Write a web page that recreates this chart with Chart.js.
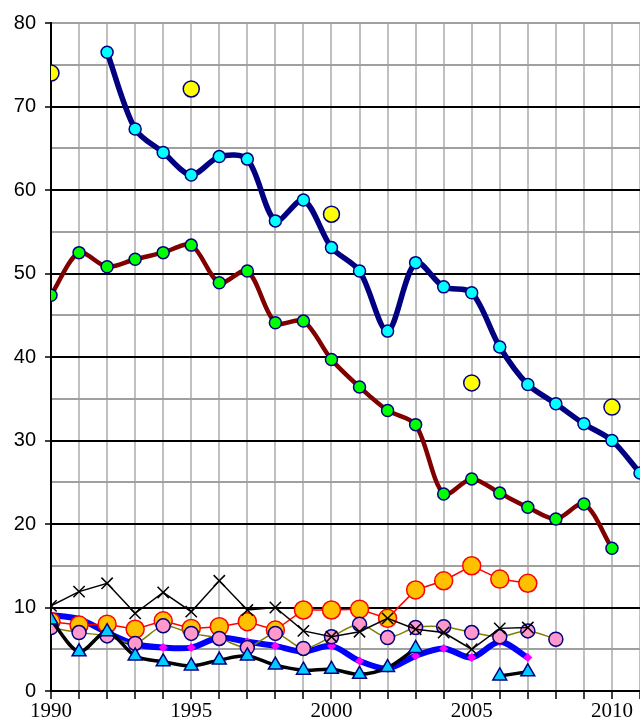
<!DOCTYPE html>
<html>
<head>
<meta charset="utf-8">
<script src="https://cdn.jsdelivr.net/npm/chart.js@4"></script>
<style>
    html, body { margin: 0; padding: 0; background: #fff; }
    #wrap { width: 640px; height: 723px; }
</style>
</head>
<body>
<div id="wrap"><canvas id="chart" width="640" height="723"></canvas></div>
<script>
// years on the x axis
const years = [1990, 1991, 1992, 1993, 1994, 1995, 1996, 1997, 1998, 1999, 2000,
               2001, 2002, 2003, 2004, 2005, 2006, 2007, 2008, 2009, 2010, 2011];

// series values (null = no value)
const yellowDots = [74.0, null, null, null, null, 72.1, null, null, null, null, 57.1,
                    null, null, null, null, 36.9, null, null, null, null, 34.0, null];
const navySeries = [null, null, 76.5, 67.3, 64.5, 61.8, 64.0, 63.7, 56.3, 58.8, 53.1,
                    50.3, 43.1, 51.3, 48.4, 47.7, 41.2, 36.7, 34.4, 32.0, 30.0, 26.1];
const redSeries = [47.4, 52.5, 50.8, 51.7, 52.5, 53.4, 48.9, 50.3, 44.1, 44.3, 39.7,
                   36.4, 33.6, 31.9, 23.6, 25.4, 23.7, 22.0, 20.6, 22.4, 17.1, null];
const orangeSeries = [8.3, 7.9, 8.0, 7.4, 8.4, 7.5, 7.7, 8.3, 7.3, 9.7, 9.7,
                      9.8, 8.7, 12.1, 13.2, 15.0, 13.4, 12.9, null, null, null, null];
const pinkSeries = [7.6, 7.0, 6.6, 5.7, 7.8, 6.9, 6.3, 5.2, 6.9, 5.1, 6.5,
                    8.0, 6.4, 7.6, 7.7, 7.0, 6.5, 7.2, 6.2, null, null, null];
const blueSeries = [9.1, 8.6, 7.0, 5.6, 5.2, 5.2, 6.4, 5.9, 5.4, 4.7, 5.4,
                    3.6, 2.7, 4.2, 5.1, 4.0, 5.9, 4.0, null, null, null, null];
const triangleSeries = [8.5, 4.7, 7.1, 4.2, 3.5, 3.0, 3.7, 4.2, 3.1, 2.5, 2.6,
                        2.0, 2.8, 5.1, null, null, 1.8, 2.3, null, null, null, null];
const crossSeries = [10.2, 11.9, 12.9, 9.3, 11.8, 9.5, 13.2, 9.7, 10.0, 7.2, 6.5,
                     7.1, 8.7, 7.4, 7.0, 5.0, 7.5, 7.6, null, null, null, null];

// tick labels
const xLabelYears = [1990, 1995, 2000, 2005, 2010];
const yLabelValues = [0, 10, 20, 30, 40, 50, 60, 70, 80];

function pts(values) {
    return values.map((v, i) => ({ x: years[i], y: v }));
}

const ctx = document.getElementById('chart').getContext('2d');
new Chart(ctx, {
    type: 'line',
    data: {
        datasets: [
            // first dataset is drawn on top
            {
                data: pts(crossSeries),
                borderColor: '#000000',
                borderWidth: 1.5,
                tension: 0,
                pointStyle: 'crossRot',
                pointRadius: 8,
                pointBorderColor: '#000000',
                pointBorderWidth: 1.5
            },
            {
                data: pts(triangleSeries),
                borderColor: '#000000',
                borderWidth: 3.5,
                tension: 0.3,
                pointStyle: 'triangle',
                pointRadius: 8,
                pointBackgroundColor: '#00ccff',
                pointBorderColor: '#000080',
                pointBorderWidth: 1.5
            },
            {
                data: pts(pinkSeries),
                borderColor: '#808000',
                borderWidth: 1.5,
                tension: 0.3,
                pointRadius: 7,
                pointBackgroundColor: '#ff99cc',
                pointBorderColor: '#000080',
                pointBorderWidth: 1.5
            },
            {
                data: pts(orangeSeries),
                borderColor: '#ff0000',
                borderWidth: 1.5,
                tension: 0,
                pointRadius: 9,
                pointBackgroundColor: '#ffc000',
                pointBorderColor: '#ff0000',
                pointBorderWidth: 1.5
            },
            {
                data: pts(blueSeries),
                borderColor: '#0000ff',
                borderWidth: 6,
                tension: 0.3,
                pointStyle: 'rectRot',
                pointRadius: 4.5,
                pointBackgroundColor: '#ff00ff',
                pointBorderWidth: 0
            },
            {
                data: pts(redSeries),
                borderColor: '#800000',
                borderWidth: 4.5,
                tension: 0.3,
                pointRadius: 6,
                pointBackgroundColor: '#00ff00',
                pointBorderColor: '#000080',
                pointBorderWidth: 1.5
            },
            {
                data: pts(navySeries),
                borderColor: '#000080',
                borderWidth: 5.5,
                tension: 0.3,
                pointRadius: 6,
                pointBackgroundColor: '#00ffff',
                pointBorderColor: '#000080',
                pointBorderWidth: 1.5
            },
            {
                data: pts(yellowDots),
                showLine: false,
                pointRadius: 8,
                pointBackgroundColor: '#ffff00',
                pointBorderColor: '#000080',
                pointBorderWidth: 1.5
            }
        ]
    },
    options: {
        responsive: false,
        animation: false,
        spanGaps: false,
        layout: { autoPadding: false, padding: { top: 23, right: 0, left: 0, bottom: 0 } },
        plugins: {
            legend: { display: false },
            tooltip: { enabled: false }
        },
        scales: {
            x: {
                type: 'linear',
                min: 1990,
                max: 2011,
                afterFit: (scale) => {
                    scale.height = 32;
                    scale.paddingLeft = 0;
                    scale.paddingRight = 0;
                },
                border: { color: '#000000', width: 2 },
                grid: {
                    color: '#c0c0c0',
                    lineWidth: 2,
                    drawTicks: true,
                    tickLength: 8,
                    tickColor: '#000000',
                    tickWidth: 1.5
                },
                ticks: {
                    stepSize: 1,
                    autoSkip: false,
                    maxRotation: 0,
                    padding: 0,
                    color: '#000000',
                    font: { family: 'Liberation Serif', size: 21 },
                    callback: (v) => xLabelYears.includes(v) ? String(v) : ''
                }
            },
            y: {
                min: 0,
                max: 80,
                afterFit: (scale) => { scale.width = 51; },
                border: { color: '#000000', width: 2 },
                grid: {
                    color: (c) => (c.tick.value % 10 === 0 && c.tick.value !== 80) ? '#000000' : '#a0a0a0',
                    lineWidth: 2,
                    drawTicks: true,
                    tickLength: 6,
                    tickColor: (c) => c.tick.value % 10 === 0 ? '#000000' : 'rgba(0,0,0,0)',
                    tickWidth: 1.5
                },
                ticks: {
                    stepSize: 5,
                    autoSkip: false,
                    padding: 9,
                    color: '#000000',
                    font: { family: 'Liberation Sans', size: 20 },
                    callback: (v) => yLabelValues.includes(v) ? String(v) : ''
                }
            }
        }
    }
});
</script>
</body>
</html>
